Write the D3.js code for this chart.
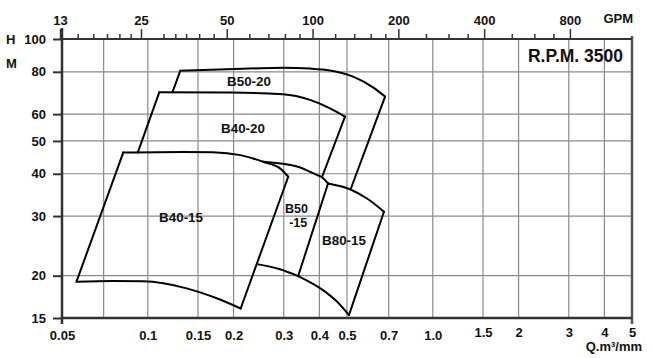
<!DOCTYPE html>
<html>
<head>
<meta charset="utf-8">
<script src="https://cdn.jsdelivr.net/npm/d3@7"></script>
<style>
  html, body { margin: 0; padding: 0; background: #fff; }
  svg { display: block; }
  text { font-family: "Liberation Sans", Arial, Helvetica, sans-serif; font-weight: bold; fill: #111; }
</style>
</head>
<body>
<svg id="chart" width="652" height="358"></svg>
<script>
// ---------- data ----------
const qTicks  = [0.05, 0.1, 0.15, 0.2, 0.3, 0.4, 0.5, 0.7, 1.0, 1.5, 2, 3, 4, 5];
const qLabels = ["0.05", "0.1", "0.15", "0.2", "0.3", "0.4", "0.5", "0.7", "1.0", "1.5", "2", "3", "4", "5"];
const qGrid   = [0.07, 0.1, 0.15, 0.2, 0.3, 0.4, 0.5, 0.7, 1.0, 1.5, 2, 3, 4];
const hTicks  = [15, 20, 30, 40, 50, 60, 80, 100];
const hGrid   = [20, 30, 40, 50, 60, 80];
const gpmMajor = [13, 25, 50, 100, 200, 400, 800];
const gpmMinor = [15, 17, 19, 21, 23, 30, 33, 36, 40, 45, 60, 70, 80, 90, 120, 140, 160, 180, 250, 300, 350, 500, 600, 700];
const gpmPerM3min = 264.17;

// pump curves: [Q m3/min, H m]
const b5020Top    = [[0.130, 80.6], [0.228, 81.8], [0.298, 82.3], [0.371, 81.8], [0.436, 80.7], [0.525, 77.4], [0.617, 72.0], [0.680, 67.6]];
const b5020Left   = [[0.130, 80.6], [0.122, 69.6]];
const b5020Right  = [[0.680, 67.6], [0.515, 36.0]];
const b4020Top    = [[0.1097, 69.6], [0.194, 69.5], [0.298, 68.7], [0.371, 66.1], [0.436, 62.4], [0.492, 59.0]];
const b4020Left   = [[0.1097, 69.6], [0.0922, 46.2]];
const b4020Right  = [[0.492, 59.0], [0.4085, 39.06]];
const b4015Top    = [[0.0820, 46.2], [0.133, 46.4], [0.169, 46.3], [0.211, 45.4], [0.254, 43.4], [0.291, 41.5], [0.311, 39.2]];
const b4015Left   = [[0.0820, 46.2], [0.0562, 19.2]];
const b4015Bottom = [[0.0562, 19.2], [0.075, 19.3], [0.0962, 19.25], [0.137, 18.35], [0.1745, 17.15], [0.2118, 16.0]];
const b4015Right  = [[0.2118, 16.0], [0.311, 39.2]];
const b5015Top    = [[0.254, 43.4], [0.334, 42.0], [0.391, 39.7], [0.4085, 39.06], [0.429, 37.45]];
const b5015Right  = [[0.429, 37.45], [0.337, 19.95]];
const b5015Bottom = [[0.244, 21.6], [0.291, 20.9], [0.337, 19.95]];
const b8015Top    = [[0.429, 37.45], [0.512, 36.0], [0.588, 33.8], [0.674, 30.9]];
const b8015Right  = [[0.674, 30.9], [0.508, 15.3]];
const b8015Bottom = [[0.337, 19.95], [0.413, 18.1], [0.460, 16.8], [0.508, 15.3]];

const curveLines = [b5020Top, b4020Top, b4015Top, b4015Bottom, b5015Top, b5015Bottom, b8015Top, b8015Bottom];
const edgeLines  = [b5020Left, b5020Right, b4020Left, b4020Right, b4015Left, b4015Right, b5015Right, b8015Right];

// model labels (multi-line names use "\n")
const modelNames = ["B50-20", "B40-20", "B40-15", "B50\n -15", "B80-15"];
const modelQ     = [0.2265, 0.2158, 0.1308, 0.3325, 0.488];
const modelH     = [74.9, 54.6, 29.8, 31.5, 25.5];

// ---------- chart ----------
const svg = d3.select("#chart");
const x = d3.scaleLog().domain([0.05, 5]).range([62, 632]);
const y = d3.scaleLog().domain([15, 100]).range([318, 39]);
const xg = d3.scaleLog().domain([0.05 * gpmPerM3min, 5 * gpmPerM3min]).range([62, 632]);

svg.append("rect").attr("width", 652).attr("height", 358).attr("fill", "#fff");

// grid
const grid = svg.append("g").attr("stroke", "#8a8a8a").attr("stroke-width", 1.2);
grid.selectAll(".vg").data(qGrid).join("line")
  .attr("x1", d => x(d)).attr("x2", d => x(d)).attr("y1", y(100)).attr("y2", y(15));
grid.selectAll(".hg").data(hGrid).join("line")
  .attr("y1", d => y(d)).attr("y2", d => y(d)).attr("x1", x(0.05)).attr("x2", x(5));

// axes
const fontSize = 13;
const leftAxis = svg.append("g").attr("transform", `translate(${x(0.05)},0)`)
  .call(d3.axisLeft(y).tickValues(hTicks).tickFormat(d3.format("d")).tickSize(9).tickPadding(7));
const bottomAxis = svg.append("g").attr("transform", `translate(0,${y(15)})`)
  .call(d3.axisBottom(x).tickValues(qTicks).tickFormat((d, i) => qLabels[i]).tickSize(0).tickPadding(13));
bottomAxis.selectAll("text").attr("y", d => d >= 1.5 ? 10 : 13);
const topAxis = svg.append("g").attr("transform", `translate(0,${y(100)})`)
  .call(d3.axisTop(xg).tickValues(gpmMajor).tickFormat(d3.format("d")).tickSize(10).tickPadding(4));
const topMinor = svg.append("g").attr("transform", `translate(0,${y(100)})`)
  .call(d3.axisTop(xg).tickValues(gpmMinor).tickFormat("").tickSize(5));

[leftAxis, bottomAxis, topAxis, topMinor].forEach(a => {
  a.select(".domain").remove();
  a.selectAll("line").attr("stroke", "#333").attr("stroke-width", 1.5);
  a.selectAll("text").attr("font-size", fontSize).attr("fill", "#111")
    .attr("font-family", '"Liberation Sans", Arial, sans-serif').attr("font-weight", "bold");
});
leftAxis.selectAll("line").attr("stroke-width", 2);

// frame
const frame = svg.append("g").attr("stroke", "#333").attr("stroke-width", 2.5).attr("fill", "none");
frame.append("line").attr("x1", x(0.05)).attr("x2", x(0.05)).attr("y1", y(100) - 11).attr("y2", y(15) + 6);
frame.append("line").attr("x1", x(5)).attr("x2", x(5)).attr("y1", y(100) - 3).attr("y2", y(15) + 6).attr("stroke", "#555");
frame.append("line").attr("x1", x(0.05)).attr("x2", x(5)).attr("y1", y(100)).attr("y2", y(100)).attr("stroke-width", 2);
frame.append("line").attr("x1", x(0.05)).attr("x2", x(5)).attr("y1", y(15)).attr("y2", y(15));

// pump curves
const smooth = d3.line().x(d => x(d[0])).y(d => y(d[1])).curve(d3.curveMonotoneX);
const straight = d3.line().x(d => x(d[0])).y(d => y(d[1]));
const curvesG = svg.append("g").attr("fill", "none").attr("stroke", "#000").attr("stroke-width", 2)
  .attr("stroke-linejoin", "round").attr("stroke-linecap", "round");
curvesG.selectAll(".c").data(curveLines).join("path").attr("d", smooth);
curvesG.selectAll(".e").data(edgeLines).join("path").attr("class", "e").attr("d", straight);

// model labels
const labels = svg.append("g").selectAll("text").data(modelNames).join("text")
  .attr("x", (d, i) => x(modelQ[i])).attr("y", (d, i) => y(modelH[i]))
  .attr("text-anchor", "middle").attr("font-size", d => d.includes("\n") ? 12.5 : 13.4)
  .attr("xml:space", "preserve").style("white-space", "pre");
labels.each(function(d, i) {
  const t = d3.select(this);
  d.split("\n").forEach((part, k) => {
    t.append("tspan").attr("x", x(modelQ[i])).attr("dy", k === 0 ? "0.36em" : "14px").text(part);
  });
});

// titles
svg.append("text").attr("x", 6).attr("y", 44).attr("font-size", 13).text("H");
svg.append("text").attr("x", 6).attr("y", 68).attr("font-size", 13).text("M");
svg.append("text").attr("x", 633).attr("y", 23).attr("text-anchor", "end").attr("font-size", 13).text("GPM");
svg.append("text").attr("x", 642).attr("y", 351).attr("text-anchor", "end").attr("font-size", 13).text("Q.m³/mm");
svg.append("text").attr("x", 623).attr("y", 62).attr("text-anchor", "end").attr("font-size", 17.5).text("R.P.M. 3500");
</script>
</body>
</html>
